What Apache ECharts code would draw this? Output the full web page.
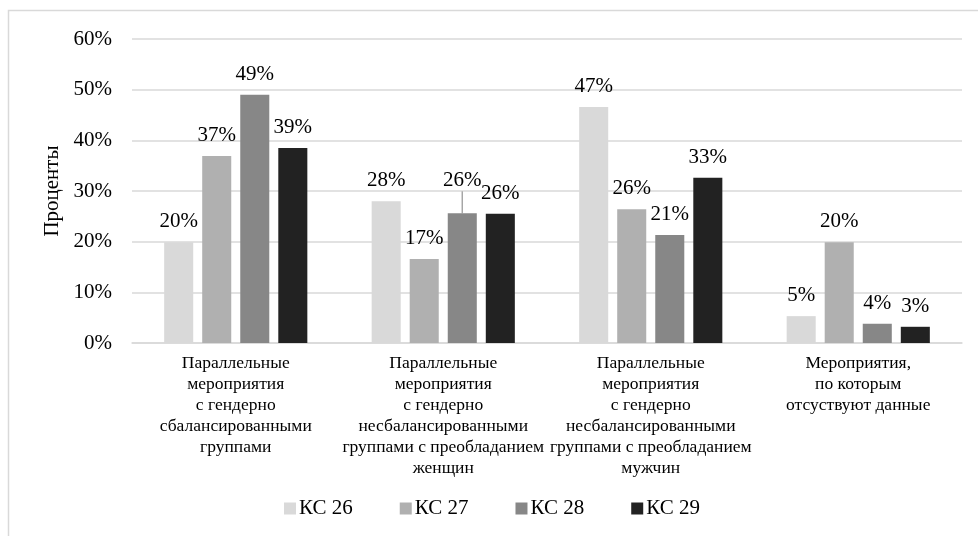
<!DOCTYPE html>
<html>
<head>
<meta charset="utf-8">
<script src="https://cdn.jsdelivr.net/npm/echarts@6/dist/echarts.min.js"></script>
<style>
    html, body { margin: 0; padding: 0; background: #fff; }
    #chart { width: 978px; height: 536px; }
</style>
</head>
<body>
<div id="chart"></div>
<script>
    // категории (подписи оси X)
    var categories = [
        'Параллельные\nмероприятия\nс гендерно\nсбалансированными\nгруппами',
        'Параллельные\nмероприятия\nс гендерно\nнесбалансированными\nгруппами с преобладанием\nженщин',
        'Параллельные\nмероприятия\nс гендерно\nнесбалансированными\nгруппами с преобладанием\nмужчин',
        'Мероприятия,\nпо которым\nотсуствуют данные'
    ];
    var seriesNames = ['КС 26', 'КС 27', 'КС 28', 'КС 29'];
    var ks26 = [19.9, 28.0, 46.6, 5.3];
    var ks27 = [36.9, 16.6, 26.4, 19.9];
    var ks28 = [49.0, 25.6, 21.3, 3.8];
    var ks29 = [38.5, 25.5, 32.6, 3.2];
    var yTicks = [0, 10, 20, 30, 40, 50, 60];

    var colors = ['#d9d9d9', '#b0b0b0', '#878787', '#222222'];
    var font = '"Liberation Serif", "Times New Roman", serif';

    function makeSeries(name, values, idx) {
        var data = values.map(function (v, i) {
            // подпись 26% (КС 28) сдвинута вверх с выноской
            if (idx === 2 && i === 1) {
                return { value: v, labelLine: { show: true } };
            }
            return v;
        });
        var s = {
            name: name,
            type: 'bar',
            data: data,
            barGap: '31%',
            barCategoryGap: '31%',
            itemStyle: { color: colors[idx] },
            label: {
                show: true,
                position: 'top',
                distance: 10,
                fontFamily: font,
                fontSize: 21,
                color: '#000',
                formatter: function (p) { return Math.round(p.value) + '%'; }
            },
            labelLine: { show: false, lineStyle: { color: '#a6a6a6', width: 1.5 } }
        };
        if (idx === 2) {
            s.labelLayout = function (p) {
                if (p.dataIndex === 1) return { dy: -12 };
            };
        }
        return s;
    }

    var myChart = echarts.init(document.getElementById('chart'));
    var option = {
        backgroundColor: '#fff',
        animation: false,
        textStyle: { fontFamily: font },
        graphic: [{
            type: 'rect',
            shape: { x: 8.5, y: 10.5, width: 1000, height: 600 },
            style: { fill: 'none', stroke: '#d9d9d9', lineWidth: 1.5 },
            silent: true
        }],
        grid: { left: 132, right: 16, top: 39, bottom: 193 },
        legend: {
            data: seriesNames,
            left: 279,
            top: 493,
            icon: 'rect',
            itemWidth: 12,
            itemHeight: 12,
            itemGap: 47,
            textStyle: { fontFamily: font, fontSize: 21, color: '#000', padding: [0, 0, 0, -2] }
        },
        xAxis: {
            type: 'category',
            data: categories,
            axisTick: { show: false },
            axisLine: { lineStyle: { color: '#d9d9d9', width: 1.5 } },
            axisLabel: {
                interval: 0,
                margin: 10,
                fontFamily: font,
                fontSize: 17.5,
                lineHeight: 21,
                color: '#000',
                align: 'center'
            }
        },
        yAxis: {
            type: 'value',
            min: yTicks[0],
            max: yTicks[yTicks.length - 1],
            interval: 10,
            name: 'Проценты',
            nameLocation: 'middle',
            nameGap: 65,
            nameRotate: 90,
            nameTextStyle: { fontFamily: font, fontSize: 21, color: '#000' },
            axisLine: { show: false },
            axisTick: { show: false },
            splitLine: { lineStyle: { color: '#d9d9d9', width: 1.5 } },
            axisLabel: {
                margin: 20,
                fontFamily: font,
                fontSize: 21,
                color: '#000',
                formatter: '{value}%'
            }
        },
        series: [
            makeSeries(seriesNames[0], ks26, 0),
            makeSeries(seriesNames[1], ks27, 1),
            makeSeries(seriesNames[2], ks28, 2),
            makeSeries(seriesNames[3], ks29, 3)
        ]
    };
    myChart.setOption(option);
</script>
</body>
</html>
